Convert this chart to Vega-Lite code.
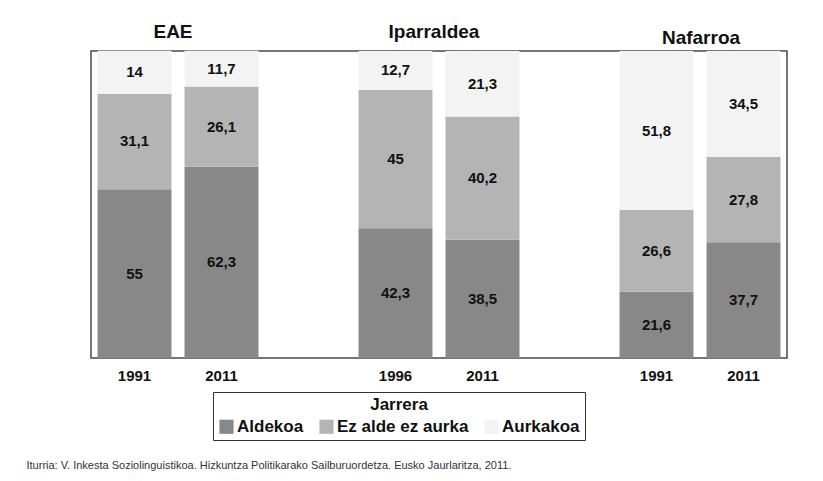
{
  "$schema": "https://vega.github.io/schema/vega-lite/v6.json",
  "width": 696,
  "height": 307,
  "autosize": "none",
  "padding": {"left": 91, "top": 51, "right": 36, "bottom": 123},
  "background": "white",
  "config": {
    "locale": {"number": {"decimal": ",", "thousands": ".", "grouping": [3], "currency": ["", " €"]}},
    "font": "Liberation Sans",
    "view": {"stroke": "#4a4a4a", "strokeWidth": 1.5}
  },
  "data": {
    "values": [
      {"k": "EAE-1991", "jarrera": "Aldekoa", "v": 55},
      {"k": "EAE-1991", "jarrera": "Ez alde ez aurka", "v": 31.1},
      {"k": "EAE-1991", "jarrera": "Aurkakoa", "v": 14},
      {"k": "EAE-2011", "jarrera": "Aldekoa", "v": 62.3},
      {"k": "EAE-2011", "jarrera": "Ez alde ez aurka", "v": 26.1},
      {"k": "EAE-2011", "jarrera": "Aurkakoa", "v": 11.7},
      {"k": "Ipar-1996", "jarrera": "Aldekoa", "v": 42.3},
      {"k": "Ipar-1996", "jarrera": "Ez alde ez aurka", "v": 45},
      {"k": "Ipar-1996", "jarrera": "Aurkakoa", "v": 12.7},
      {"k": "Ipar-2011", "jarrera": "Aldekoa", "v": 38.5},
      {"k": "Ipar-2011", "jarrera": "Ez alde ez aurka", "v": 40.2},
      {"k": "Ipar-2011", "jarrera": "Aurkakoa", "v": 21.3},
      {"k": "Naf-1991", "jarrera": "Aldekoa", "v": 21.6},
      {"k": "Naf-1991", "jarrera": "Ez alde ez aurka", "v": 26.6},
      {"k": "Naf-1991", "jarrera": "Aurkakoa", "v": 51.8},
      {"k": "Naf-2011", "jarrera": "Aldekoa", "v": 37.7},
      {"k": "Naf-2011", "jarrera": "Ez alde ez aurka", "v": 27.8},
      {"k": "Naf-2011", "jarrera": "Aurkakoa", "v": 34.5}
    ]
  },
  "transform": [
    {"calculate": "indexof(['Aldekoa', 'Ez alde ez aurka', 'Aurkakoa'], datum.jarrera)", "as": "stackorder"}
  ],
  "layer": [
    {
      "mark": {"type": "bar"},
      "encoding": {
        "x": {
          "field": "k", "type": "nominal",
          "scale": {"domain": ["EAE-1991", "EAE-2011", "g1", "Ipar-1996", "Ipar-2011", "g2", "Naf-1991", "Naf-2011"], "paddingInner": 0.15, "paddingOuter": 0.075},
          "axis": {
            "orient": "bottom", "domain": false, "ticks": false, "labelAngle": 0,
            "labelExpr": "indexof(datum.value, '-') < 0 ? '' : split(datum.value, '-')[1]",
            "labelFontSize": 15, "labelFontWeight": "bold", "labelColor": "#111", "labelPadding": 10,
            "title": "Iturria: V. Inkesta Soziolinguistikoa. Hizkuntza Politikarako Sailburuordetza. Eusko Jaurlaritza, 2011.",
            "titleX": -65, "titleY": 107, "titleAlign": "left", "titleAnchor": null, "titleBaseline": "middle",
            "titleFontSize": 11, "titleFontWeight": "normal", "titleColor": "#333"
          }
        },
        "y": {
          "field": "v", "type": "quantitative", "stack": "zero",
          "scale": {"domain": [0, 100], "nice": false},
          "axis": {
            "title": null, "values": [0, 20, 40, 60, 80, 100], "domain": false, "ticks": false,
            "labelFontSize": 15, "labelColor": "#222", "labelPadding": 15,
            "gridColor": "#dcdcdc", "gridWidth": 1.2
          }
        },
        "order": {"field": "stackorder", "type": "quantitative", "sort": "ascending"},
        "color": {
          "field": "jarrera", "type": "nominal",
          "sort": ["Aldekoa", "Ez alde ez aurka", "Aurkakoa"],
          "scale": {"domain": ["Aldekoa", "Ez alde ez aurka", "Aurkakoa"], "range": ["#888888", "#b4b4b4", "#f3f3f3"]},
          "legend": {
            "orient": "none", "legendX": 122, "legendY": 341, "direction": "horizontal",
            "title": "Jarrera", "titleAnchor": "middle", "titleFontSize": 17, "titleFontWeight": "bold", "titleColor": "#111",
            "titlePadding": 4,
            "labelFontSize": 17, "labelFontWeight": "bold", "labelColor": "#111", "labelOffset": 2,
            "symbolType": "square", "symbolSize": 200, "symbolStrokeWidth": 0,
            "strokeColor": "#333", "fillColor": "white", "padding": 5, "columnPadding": 14
          }
        }
      }
    },
    {
      "mark": {"type": "text", "fontSize": 15, "fontWeight": "bold", "baseline": "middle", "color": "#111"},
      "encoding": {
        "x": {
          "field": "k", "type": "nominal",
          "scale": {"domain": ["EAE-1991", "EAE-2011", "g1", "Ipar-1996", "Ipar-2011", "g2", "Naf-1991", "Naf-2011"], "paddingInner": 0.15, "paddingOuter": 0.075},
          "axis": {
            "orient": "top", "domain": false, "ticks": false, "grid": false, "labelAngle": 0, "title": null,
            "labelExpr": "datum.value == 'EAE-1991' ? 'EAE' : datum.value == 'Ipar-1996' ? 'Iparraldea' : datum.value == 'Naf-1991' ? 'Nafarroa' : ''",
            "labelFontSize": 19, "labelFontWeight": "bold", "labelColor": "#111", "labelBaseline": "alphabetic",
            "labelOffset": {"condition": {"test": "datum.value == 'Naf-1991'", "value": 44.5}, "value": 38.5},
            "labelPadding": {"condition": {"test": "datum.value == 'Naf-1991'", "value": 8}, "value": 14}
          }
        },
        "y": {"field": "v", "type": "quantitative", "stack": "zero", "bandPosition": 0.5, "axis": null},
        "detail": {"field": "jarrera", "type": "nominal"},
        "order": {"field": "stackorder", "type": "quantitative", "sort": "ascending"},
        "text": {"field": "v", "type": "quantitative", "format": "~r"}
      }
    }
  ],
  "resolve": {"axis": {"x": "independent"}}
}
